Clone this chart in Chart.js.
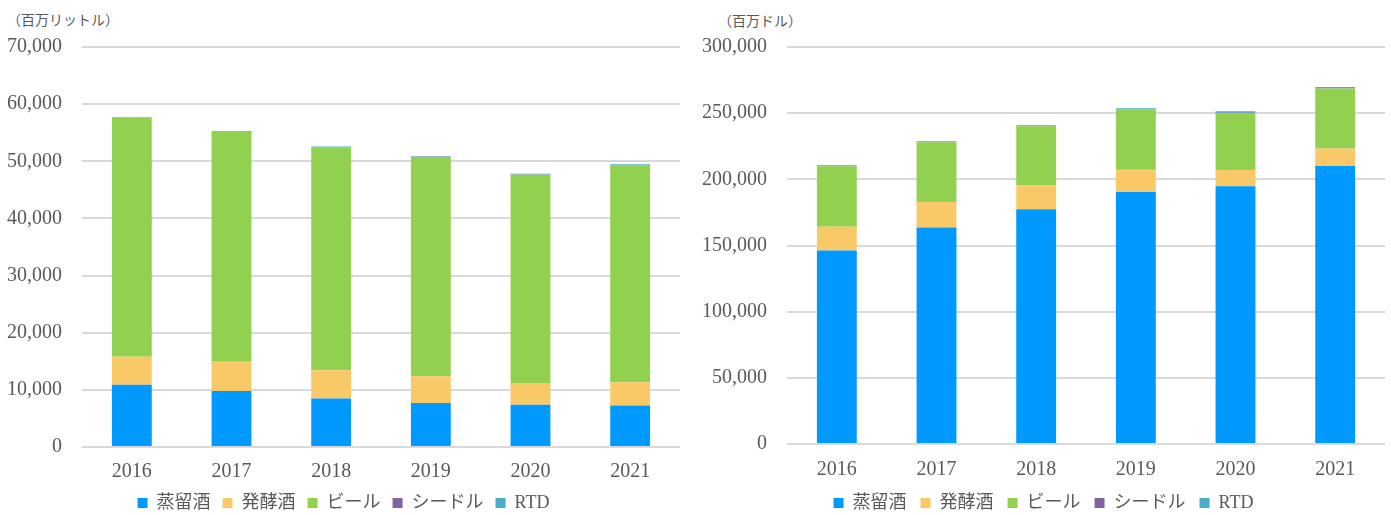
<!DOCTYPE html>
<html>
<head>
<meta charset="utf-8">
<script src="https://cdn.jsdelivr.net/npm/chart.js@4.4.0/dist/chart.umd.min.js"></script>
<style>
  body { margin: 0; width: 1391px; height: 515px; overflow: hidden; background: #fff; position: relative; }
  canvas { position: absolute; top: 0; }
  .unit { position: absolute; font-family: 'Noto Sans CJK JP', sans-serif; font-size: 14px; color: #595959; line-height: 14px; }
</style>
</head>
<body>
<div class="unit" style="left:7px; top:12px;">（百万リットル）</div>
<div class="unit" style="left:718px; top:13px;">（百万ドル）</div>
<canvas id="volumeChart" width="695" height="522" style="left:0px; width:695px; height:522px;"></canvas>
<canvas id="valueChart" width="696" height="522" style="left:695px; width:696px; height:522px;"></canvas>
<script>
const years = ['2016', '2017', '2018', '2019', '2020', '2021'];
const seriesNames = ['蒸留酒', '発酵酒', 'ビール', 'シードル', 'RTD'];
const seriesColors = ['#0099ff', '#f9c968', '#92d050', '#8064a2', '#4bacc6'];

// 百万リットル
const volSpirits = [10900, 9800, 8500, 7700, 7400, 7250];
const volFermented = [4900, 5100, 4950, 4700, 3800, 4100];
const volBeer = [41850, 40250, 39000, 38350, 36450, 37920];
const volCider = [30, 30, 30, 30, 30, 30];
const volRtd = [80, 100, 100, 120, 120, 200];
const volTicks = [0, 10000, 20000, 30000, 40000, 50000, 60000, 70000];

// 百万ドル
const valSpirits = [146200, 163600, 177300, 190400, 194700, 210100];
const valFermented = [18000, 19200, 18200, 16900, 12400, 13200];
const valBeer = [45600, 45200, 44700, 45700, 43100, 45400];
const valCider = [100, 100, 100, 100, 100, 100];
const valRtd = [700, 700, 600, 700, 1200, 900];
const valTicks = [0, 50000, 100000, 150000, 200000, 250000, 300000];

const textColor = '#595959';
const serif = "'Liberation Serif', 'Noto Sans CJK JP', serif";

function makeChart(id, series, ticks, pad) {
  const datasets = series.map((data, i) => ({
    label: seriesNames[i],
    data: data,
    backgroundColor: seriesColors[i],
    borderWidth: 0,
    barPercentage: 0.4,
    categoryPercentage: 1.0,
  }));

  return new Chart(document.getElementById(id), {
    type: 'bar',
    data: { labels: years, datasets: datasets },
    options: {
      responsive: false,
      animation: false,
      devicePixelRatio: 1,
      layout: { padding: { top: 47, left: 7, right: pad.right, bottom: 0 } },
      plugins: {
        tooltip: { enabled: false },
        legend: {
          position: 'bottom',
          labels: {
            boxWidth: 10,
            boxHeight: 10,
            padding: pad.legend,
            color: textColor,
            font: { family: serif, size: 18 },
          },
        },
      },
      scales: {
        x: {
          stacked: true,
          grid: { display: false, drawTicks: false },
          border: { display: false },
          // chart.js counts tick padding twice, keep it only once
          afterFit: (axis) => { axis.height -= pad.xTicks; },
          ticks: {
            padding: pad.xTicks,
            color: textColor,
            font: { family: serif, size: 20, lineHeight: 1 },
          },
        },
        y: {
          stacked: true,
          min: ticks[0],
          max: ticks[ticks.length - 1],
          afterBuildTicks: (axis) => { axis.ticks = ticks.map(v => ({ value: v })); },
          afterFit: (axis) => { axis.width -= 20; },
          grid: { color: '#d9d9d9', lineWidth: 2, drawTicks: false },
          border: { display: false },
          ticks: {
            padding: 20,
            color: textColor,
            font: { family: serif, size: 20 },
            callback: (v) => v.toLocaleString('en-US'),
          },
        },
      },
    },
  });
}

makeChart('volumeChart', [volSpirits, volFermented, volBeer, volCider, volRtd], volTicks,
  { right: 15, xTicks: 15, legend: 12 });
makeChart('valueChart', [valSpirits, valFermented, valBeer, valCider, valRtd], valTicks,
  { right: 6, xTicks: 16, legend: 14 });
</script>
</body>
</html>
